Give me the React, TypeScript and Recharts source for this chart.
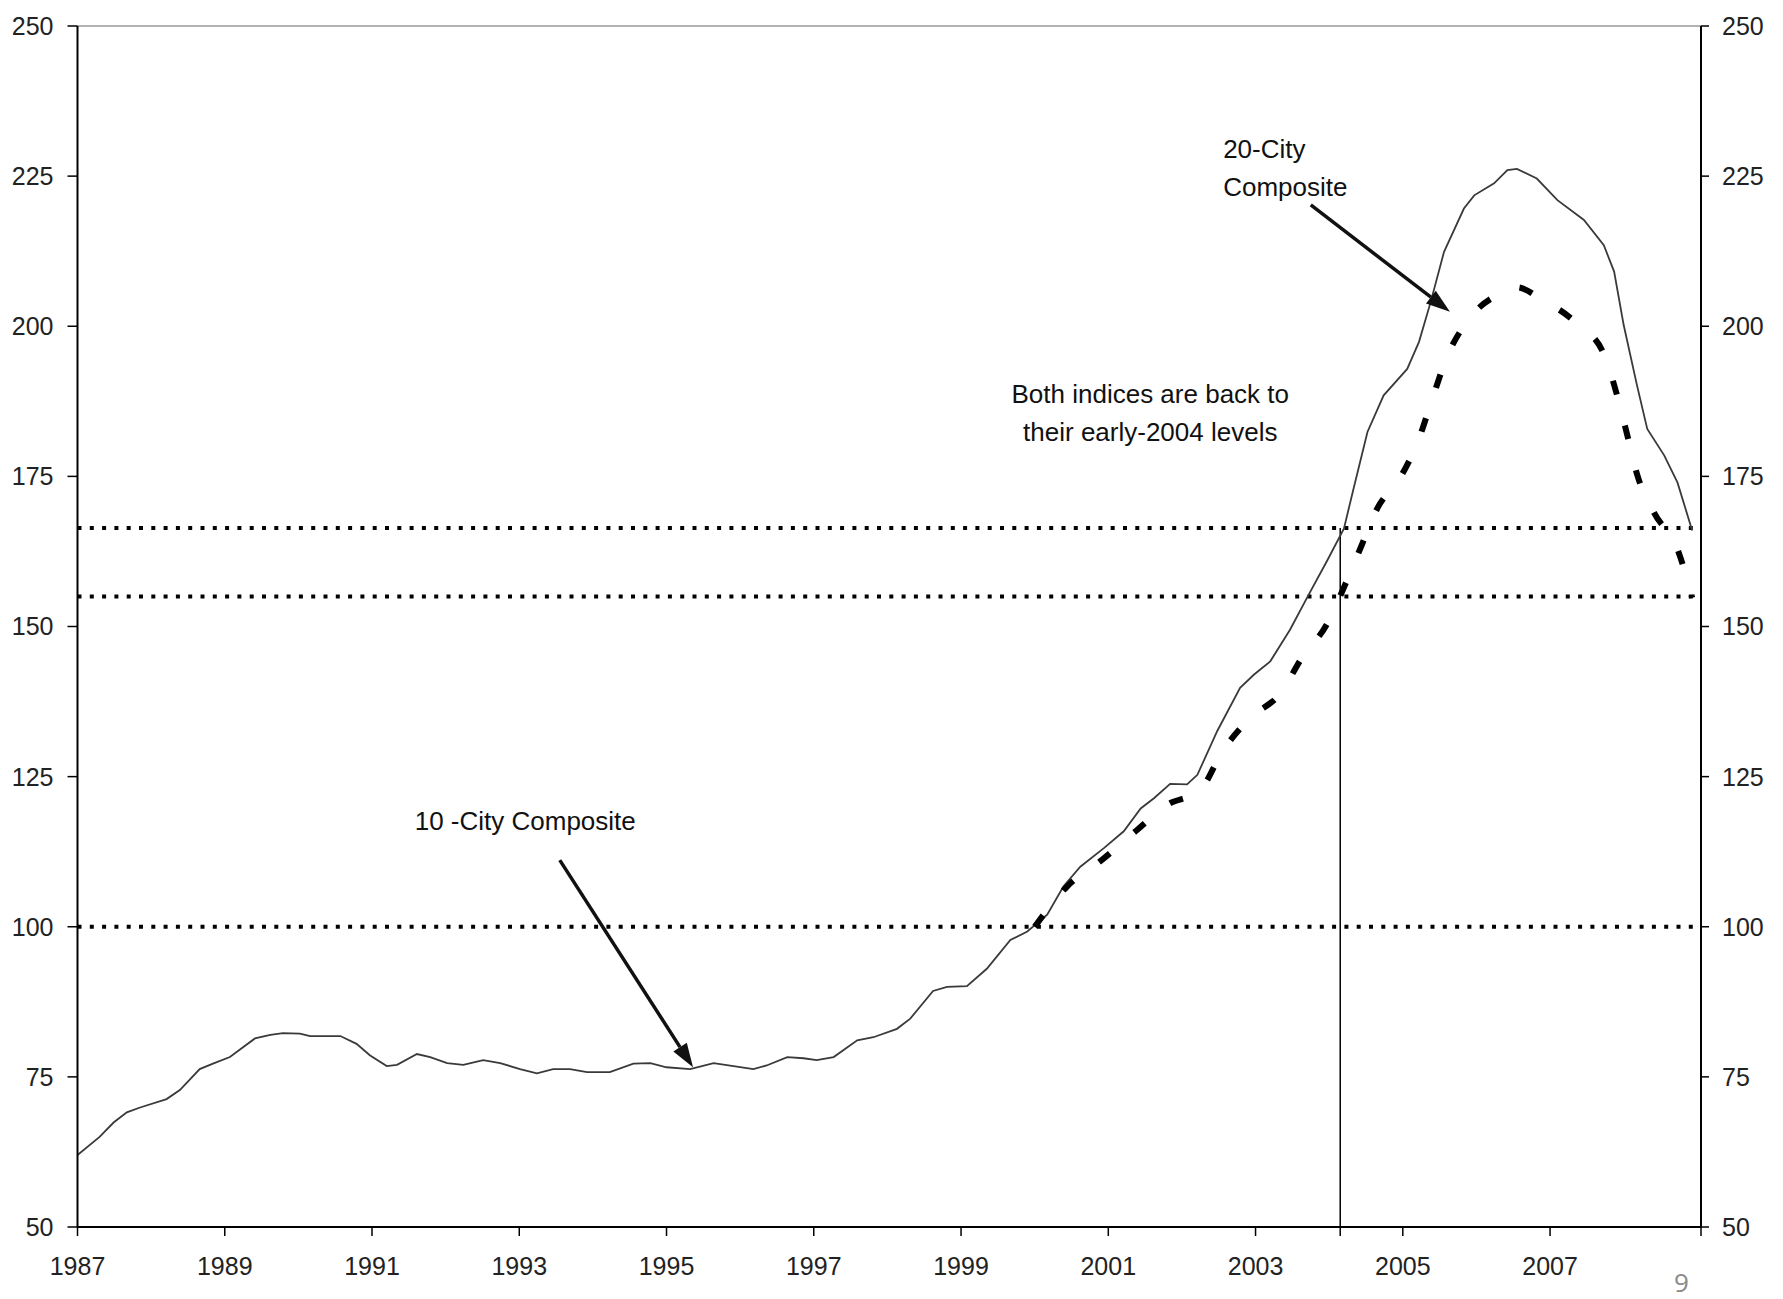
import { LineChart, Line, XAxis, YAxis, ReferenceLine, ReferenceDot } from 'recharts'

// S&P/Case-Shiller composites
const tenCityYears = [
    1987.0, 1987.3, 1987.49, 1987.67, 1987.85, 1988.21, 1988.39, 1988.66, 1988.84, 1989.07,
    1989.41, 1989.62, 1989.79, 1990.02, 1990.16, 1990.57, 1990.79, 1990.97, 1991.2, 1991.34,
    1991.61, 1991.79, 1992.02, 1992.24, 1992.51, 1992.74, 1993.01, 1993.24, 1993.46, 1993.69,
    1993.92, 1994.23, 1994.55, 1994.78, 1995.0, 1995.32, 1995.64, 1995.91, 1996.18, 1996.36,
    1996.64, 1996.86, 1997.04, 1997.27, 1997.59, 1997.81, 1998.13, 1998.31, 1998.62, 1998.81,
    1999.08, 1999.35, 1999.67, 1999.9, 2000.17, 2000.39, 2000.62, 2000.94, 2001.21, 2001.44,
    2001.62, 2001.84, 2002.07, 2002.21, 2002.48, 2002.79, 2002.98, 2003.2, 2003.47, 2003.7,
    2003.97, 2004.2, 2004.33, 2004.52, 2004.74, 2005.06, 2005.22, 2005.38, 2005.56, 2005.83,
    2005.97, 2006.24, 2006.42, 2006.55, 2006.82, 2007.1, 2007.46, 2007.73, 2007.87, 2008.0,
    2008.18, 2008.32, 2008.55, 2008.73, 2008.93,
]
const tenCityValues = [
    62.0, 65.0, 67.4, 69.1, 69.9, 71.3, 72.8, 76.3, 77.2, 78.3,
    81.4, 82.0, 82.3, 82.2, 81.8, 81.8, 80.5, 78.6, 76.8, 77.0,
    78.8, 78.3, 77.3, 77.0, 77.8, 77.3, 76.3, 75.6, 76.3, 76.3,
    75.8, 75.8, 77.2, 77.3, 76.6, 76.3, 77.3, 76.8, 76.3, 76.9,
    78.3, 78.1, 77.8, 78.3, 81.1, 81.6, 83.0, 84.7, 89.3, 90.0,
    90.1, 93.0, 97.8, 99.2, 102.0, 106.7, 110.0, 113.1, 115.9, 119.7,
    121.4, 123.8, 123.7, 125.3, 132.6, 139.8, 142.0, 144.2, 149.5, 154.8,
    160.9, 166.3, 172.9, 182.4, 188.5, 192.9, 197.4, 204.1, 212.4, 219.6,
    221.8, 223.8, 226.0, 226.2, 224.6, 221.0, 217.7, 213.5, 209.1, 200.2,
    190.2, 182.9, 178.5, 174.0, 166.0,
]

const twentyCityYears = [
    2000.0, 2000.44, 2000.91, 2001.37, 2001.8, 2002.25, 2002.55, 2002.93, 2003.34, 2003.63,
    2003.97, 2004.2, 2004.43, 2004.65, 2004.97, 2005.22, 2005.4, 2005.6, 2005.92, 2006.37,
    2006.55, 2006.87, 2007.37, 2007.73, 2007.91, 2008.05, 2008.18, 2008.41, 2008.73, 2008.93,
]
const twentyCityValues = [
    100.0, 106.7, 111.1, 115.9, 120.3, 122.8, 129.2, 134.8, 138.9, 144.8,
    150.4, 156.5, 163.2, 169.6, 174.9, 181.3, 187.9, 194.9, 201.5, 205.7,
    206.5, 204.6, 200.4, 195.4, 188.5, 181.8, 175.4, 169.0, 162.9, 154.8,
]

const yearTicks = [1987, 1989, 1991, 1993, 1995, 1997, 1999, 2001, 2003, 2005, 2007]
const valueTicks = [50, 75, 100, 125, 150, 175, 200, 225, 250]
const levelLines = [100, 155, 166.4]
const early2004 = 2004.15
const axisStart = 1987
const axisEnd = 2009.05

const tenCity = tenCityYears.map((year, i) => ({year, value: tenCityValues[i]}))
const twentyCity = twentyCityYears.map((year, i) => ({year, value: twentyCityValues[i]}))

const FONT = '"Liberation Sans", Arial, sans-serif'
const tickStyle = {fill: '#222', fontSize: 25, fontFamily: FONT}

// line with a filled head, drawn between the two segment ends
const Arrow = (props: any) => {
    const {x1, y1, x2, y2} = props
    const a = Math.atan2(y2 - y1, x2 - x1)
    const len = 24
    const half = 8
    const bx = x2 - len * Math.cos(a)
    const by = y2 - len * Math.sin(a)
    const px = -Math.sin(a) * half
    const py = Math.cos(a) * half
    return (
        <g>
            <line x1={x1} y1={y1} x2={bx} y2={by} stroke="#111" strokeWidth={3.5}/>
            <polygon points={`${x2},${y2} ${bx + px},${by + py} ${bx - px},${by - py}`} fill="#111"/>
        </g>
    )
}

const note = (lines: string[], anchor: string) => (props: any) => (
    <text x={props.cx} y={props.cy} fill="#111" fontSize={26} fontFamily={FONT} textAnchor={anchor}>
        {lines.map((t, i) => (
            <tspan key={i} x={props.cx} dy={i === 0 ? 0 : 38}>{t}</tspan>
        ))}
    </text>
)

const dotted = {stroke: '#000', strokeWidth: 4, strokeDasharray: '4 8.3'}

export default function App() {
    return (
        <div style={{position: 'absolute', left: 0, top: 0, width: 1783, height: 1299, overflow: 'hidden', background: '#fff'}}>
            <LineChart width={1783} height={1299} margin={{top: 26, right: 0, bottom: 0, left: 0}}>
                <XAxis
                    type="number"
                    dataKey="year"
                    domain={[axisStart, axisEnd]}
                    ticks={[...yearTicks, early2004, axisEnd]}
                    interval={0}
                    tickFormatter={(v) => (yearTicks.includes(v) ? String(v) : '')}
                    height={72}
                    tickSize={9}
                    tickMargin={21}
                    tick={tickStyle}
                    axisLine={{stroke: '#000', strokeWidth: 2}}
                    tickLine={{stroke: '#000', strokeWidth: 1.5}}
                    allowDataOverflow
                />
                <YAxis
                    yAxisId="left"
                    domain={[50, 250]}
                    ticks={valueTicks}
                    interval={0}
                    allowDataOverflow
                    width={77.5}
                    tickSize={10}
                    tickMargin={14}
                    tick={tickStyle}
                    axisLine={{stroke: '#000', strokeWidth: 2}}
                    tickLine={{stroke: '#000', strokeWidth: 1.5}}
                />
                <YAxis
                    yAxisId="right"
                    orientation="right"
                    domain={[50, 250]}
                    ticks={valueTicks}
                    interval={0}
                    allowDataOverflow
                    width={82}
                    tickSize={8}
                    tickMargin={13}
                    tick={tickStyle}
                    axisLine={{stroke: '#000', strokeWidth: 2}}
                    tickLine={{stroke: '#000', strokeWidth: 1.5}}
                />

                <ReferenceLine yAxisId="left" y={250} stroke="#999" strokeWidth={1.5}/>
                {levelLines.map((v) => (
                    <ReferenceLine key={v} yAxisId="left" y={v} {...dotted}/>
                ))}
                <ReferenceLine
                    yAxisId="left"
                    segment={[{x: early2004, y: levelLines[2]}, {x: early2004, y: 50}]}
                    stroke="#000"
                    strokeWidth={1.5}
                />

                <Line
                    yAxisId="left"
                    data={tenCity}
                    dataKey="value"
                    type="linear"
                    stroke="#3a3a3a"
                    strokeWidth={1.8}
                    dot={false}
                    isAnimationActive={false}
                />
                {/* same 50-250 scale, plotted on the right axis so it gets its ticks */}
                <Line
                    yAxisId="right"
                    data={twentyCity}
                    dataKey="value"
                    type="monotone"
                    stroke="#000"
                    strokeWidth={6}
                    strokeDasharray="14 32"
                    dot={false}
                    isAnimationActive={false}
                />

                <ReferenceLine
                    yAxisId="left"
                    segment={[{x: 2003.75, y: 220.2}, {x: 2005.64, y: 202.4}]}
                    shape={Arrow}
                />
                <ReferenceLine
                    yAxisId="left"
                    segment={[{x: 1993.55, y: 111.1}, {x: 1995.36, y: 76.6}]}
                    shape={Arrow}
                />

                <ReferenceDot yAxisId="left" x={2002.56} y={228.0} r={0}
                              shape={note(['20-City', 'Composite'], 'start')}/>
                <ReferenceDot yAxisId="left" x={2001.57} y={187.2} r={0}
                              shape={note(['Both indices are back to', 'their early-2004 levels'], 'middle')}/>
                <ReferenceDot yAxisId="left" x={1991.58} y={116.1} r={0}
                              shape={note(['10 -City Composite'], 'start')}/>
            </LineChart>
            <svg width={1783} height={1299} style={{position: 'absolute', left: 0, top: 0, pointerEvents: 'none'}}>
                <text x={1674} y={1292} fill="#8a8a8a" fontSize={26} fontFamily='"Open Sans", sans-serif'>9</text>
            </svg>
        </div>
    )
}
